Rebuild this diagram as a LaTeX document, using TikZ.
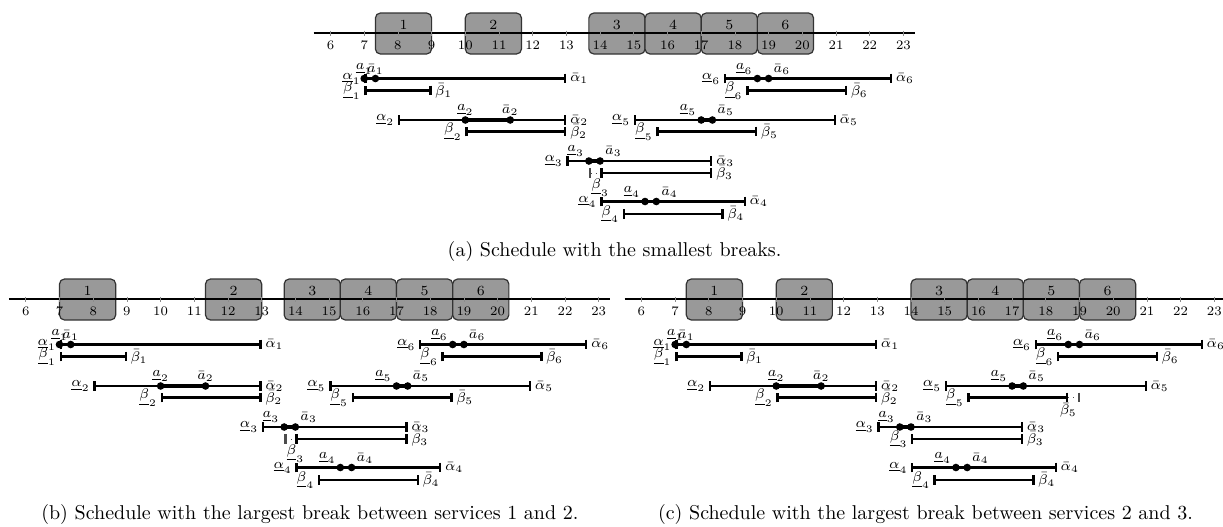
\documentclass[tikz,border=0pt]{standalone}
\usetikzlibrary{arrows.meta}
\tikzset{
  ivl/.style={line width=1.2pt, arrows={Bar[width=4.8pt,line width=1.2pt]-Bar[width=4.8pt,line width=1.2pt]}},
  core/.style={line width=1.9pt},
  dotn/.style={circle, fill=black, inner sep=0pt, minimum size=3.8pt},
  lab/.style={font=\fontsize{7}{8}\selectfont, inner sep=0.8pt},
  axisline/.style={line width=0.55pt},
  tickmark/.style={line width=0.4pt, black!45},
  ticklab/.style={font=\fontsize{6.5}{7}\selectfont, inner sep=0pt},
  boxnum/.style={font=\fontsize{7}{8}\selectfont, inner sep=0pt},
  svcbox/.style={draw=black!80, fill=black!40, line width=0.6pt, rounded corners=2.5pt,
    minimum width=28.09pt, minimum height=20.5pt, inner sep=0pt, outer sep=0pt, anchor=west},
  capt/.style={font=\fontsize{10}{12}\selectfont, anchor=base, inner sep=0pt},
  dotseg/.style={dotted, line width=0.5pt, black!70},
}
% alpha row: #1 panel, #2 service, #3 y, #4 left, #5 a-low, #6 a-high, #7 right
\newcommand\alphaRow[7]{%
  \coordinate (#1al#2) at (#4,#3);
  \coordinate (#1dl#2) at (#5,#3);
  \coordinate (#1dr#2) at (#6,#3);
  \coordinate (#1ar#2) at (#7,#3);
  \draw[ivl] (#1al#2) -- (#1ar#2);
  \draw[core] (#1dl#2) -- (#1dr#2);
  \node[dotn] (#1DL#2) at (#1dl#2) {};
  \node[dotn] (#1DR#2) at (#1dr#2) {};
  \node[lab, anchor=east] (#1Lal#2) at ([xshift=-0.8pt]#1al#2) {$\underline{\alpha}_{#2}$};
  \node[lab, anchor=west] (#1Lar#2) at ([xshift=0.8pt]#1ar#2) {$\bar{\alpha}_{#2}$};
}
\newcommand\aLabC[2]{%
  \node[lab, anchor=south, yshift=1.2pt] (#1La#2) at (#1dl#2) {$\underline{a}_{#2}$};
  \node[lab, anchor=south, yshift=1.2pt] (#1Lb#2) at (#1dr#2) {$\bar{a}_{#2}$};
}
\newcommand\aLabS[2]{%
  \node[lab, anchor=south east, xshift=-1.5pt, yshift=1.2pt] (#1La#2) at (#1dl#2) {$\underline{a}_{#2}$};
  \node[lab, anchor=south west, xshift=1.5pt, yshift=1.2pt] (#1Lb#2) at (#1dr#2) {$\bar{a}_{#2}$};
}
% beta row: #1 panel, #2 service, #3 y, #4 left, #5 right
\newcommand\betaRow[5]{%
  \coordinate (#1bl#2) at (#4,#3);
  \coordinate (#1br#2) at (#5,#3);
  \draw[ivl] (#1bl#2) -- (#1br#2);
}
\newcommand\bLabL[2]{\node[lab, anchor=east] (#1Lbl#2) at ([xshift=-0.8pt]#1bl#2) {$\underline{\beta}_{#2}$};}
\newcommand\bLabR[2]{\node[lab, anchor=west] (#1Lbr#2) at ([xshift=0.8pt]#1br#2) {$\bar{\beta}_{#2}$};}
% axis with boxes: #1 panel, #2..#7 box starts
\newcommand\scaffold[7]{%
  \node[svcbox] (#1box1) at (#2,33.5) {};
  \node[svcbox] (#1box2) at (#3,33.5) {};
  \node[svcbox] (#1box3) at (#4,33.5) {};
  \node[svcbox] (#1box4) at (#5,33.5) {};
  \node[svcbox] (#1box5) at (#6,33.5) {};
  \node[svcbox] (#1box6) at (#7,33.5) {};
  \coordinate (#1ax0) at (5.5,33);
  \coordinate (#1ax1) at (23.35,33);
  \draw[axisline] (#1ax0) -- (#1ax1);
  \foreach \tk in {6,...,23}{%
    \draw[tickmark] (\tk,30.5) -- (\tk,35.5);
    \node[ticklab] (#1tick\tk) at (\tk,45.5) {\tk};
  }
  \node[boxnum] (#1num1) at (#2+0.8335,24.5) {1};
  \node[boxnum] (#1num2) at (#3+0.8335,24.5) {2};
  \node[boxnum] (#1num3) at (#4+0.8335,24.5) {3};
  \node[boxnum] (#1num4) at (#5+0.8335,24.5) {4};
  \node[boxnum] (#1num5) at (#6+0.8335,24.5) {5};
  \node[boxnum] (#1num6) at (#7+0.8335,24.5) {6};
}
\newcommand\common[1]{%
  \alphaRow{#1}{1}{78.5}{7}{7}{7.333}{13}\aLabC{#1}{1}
  \betaRow{#1}{1}{90.5}{7}{9}\bLabL{#1}{1}\bLabR{#1}{1}
  \alphaRow{#1}{2}{120}{8}{10}{11.333}{13}\aLabC{#1}{2}
  \betaRow{#1}{2}{131.5}{10}{13}\bLabL{#1}{2}\bLabR{#1}{2}
  \alphaRow{#1}{3}{161}{13}{13.667}{14}{17.333}\aLabS{#1}{3}
  \betaRow{#1}{3}{173}{14}{17.333}\bLabR{#1}{3}
  \alphaRow{#1}{4}{201.5}{14}{15.333}{15.667}{18.333}\aLabS{#1}{4}
  \betaRow{#1}{4}{214}{14.667}{17.667}\bLabL{#1}{4}\bLabR{#1}{4}
  \alphaRow{#1}{5}{120}{15}{17}{17.333}{21}\aLabS{#1}{5}
  \betaRow{#1}{5}{131.5}{15.667}{18.667}\bLabL{#1}{5}
  \alphaRow{#1}{6}{78.5}{17.667}{18.667}{19}{22.667}\aLabS{#1}{6}
  \betaRow{#1}{6}{90.5}{18.333}{21.333}\bLabL{#1}{6}\bLabR{#1}{6}
}
% dotted start of beta_3, label below
\newcommand\betaThreeExt[1]{%
  \coordinate (#1bx3) at (13.667,173);
  \draw[dotseg, arrows={Bar[width=4.8pt,line width=1.2pt]-}] (#1bx3) -- (#1bl3);
  \node[lab, anchor=north, yshift=-1.8pt] (#1Lbl3) at (#1bl3) {$\underline{\beta}_{3}$};
  \bLabR{#1}{5}
}
\begin{document}
\begin{tikzpicture}[x=0.5pt, y=-0.5pt]
\useasboundingbox (0,0) rectangle (1223,526);
% ---------- (a)
\begin{scope}[shift={(128.3,0)}, x=16.85pt]
  \scaffold{a}{7.333}{10}{13.667}{15.333}{17}{18.667}
  \common{a}
  \betaThreeExt{a}
  \node[capt] (acap) at (14.43,256) {(a) Schedule with the smallest breaks.};
\end{scope}
% ---------- (b)
\begin{scope}[shift={(-176.4,266)}, x=16.85pt]
  \scaffold{b}{7}{11.333}{13.667}{15.333}{17}{18.667}
  \common{b}
  \betaThreeExt{b}
  \node[capt] (bcap) at (14.43,253) {(b) Schedule with the largest break between services 1 and 2.};
\end{scope}
% ---------- (c)
\begin{scope}[shift={(439.2,266)}, x=16.85pt]
  \scaffold{c}{7.333}{10}{14}{15.667}{17.333}{19}
  \common{c}
  \bLabL{c}{3}
  \coordinate (cbx5) at (19,131.5);
  \draw[dotseg, arrows={-Bar[width=4.8pt,line width=0.8pt]}] (cbr5) -- (cbx5);
  \node[lab, anchor=north, yshift=-1.8pt] (cLbr5) at (cbr5) {$\bar{\beta}_{5}$};
  \node[capt] (ccap) at (14.43,253) {(c) Schedule with the largest break between services 2 and 3.};
\end{scope}
\end{tikzpicture}
\end{document}
